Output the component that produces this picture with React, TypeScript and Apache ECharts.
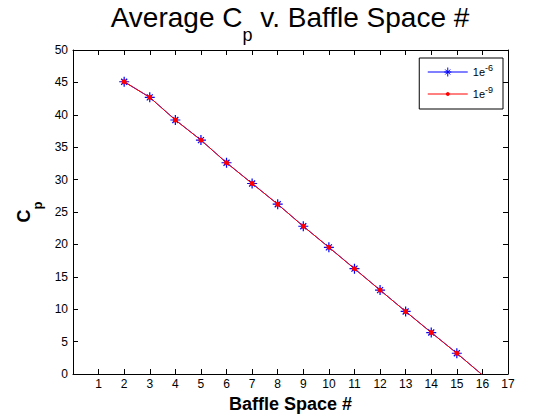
import React, { useEffect, useRef } from "react";
import * as echarts from "echarts";

const baffleSpace = [2, 3, 4, 5, 6, 7, 8, 9, 10, 11, 12, 13, 14, 15, 16];
const cpTol6 = [45.1, 42.7, 39.2, 36.1, 32.6, 29.4, 26.2, 22.8, 19.55, 16.25, 12.95, 9.65, 6.4, 3.2, -0.15];
const cpTol9 = [45.1, 42.7, 39.2, 36.1, 32.6, 29.4, 26.2, 22.8, 19.55, 16.25, 12.95, 9.65, 6.4, 3.2, -0.15];
const seriesNames = ["1e-6", "1e-9"];

const FONT = "Liberation Sans, Arial, Helvetica, sans-serif";
const ASTERISK = "path://M0,-10 L0,10 M-10,0 L10,0 M-6,-6 L6,6 M-6,6 L6,-6";
const LEGEND_BLUE = "path://M0,0 M40,10 M0,5 L40,5 M20,0.5 L20,9.5 M16.5,5 L23.5,5 M17.5,2.5 L22.5,7.5 M17.5,7.5 L22.5,2.5";
const LEGEND_RED = "path://M0,0 M40,10 M0,5 L40,5 M18.5,5 A1.5,1.5 0 1,0 21.5,5 A1.5,1.5 0 1,0 18.5,5 Z";

export default function App() {
  const ref = useRef<HTMLDivElement>(null);
  useEffect(() => {
    if (!ref.current) return;
    const chart = echarts.init(ref.current, null, { renderer: "svg" });
    const axisLine = { show: true, onZero: false, lineStyle: { color: "#000", width: 1 } };
    const tick = { show: true, inside: true, length: 5, lineStyle: { color: "#000" } };
    chart.setOption({
      animation: false,
      backgroundColor: "#fff",
      title: {
        text: "Average C{sub|p} v. Baffle Space #",
        left: 290,
        textAlign: "center",
        top: 2,
        padding: 0,
        textStyle: {
          fontFamily: FONT,
          fontSize: 28,
          fontWeight: "normal",
          color: "#000",
          lineHeight: 30,
          rich: {
            sub: { fontFamily: FONT, fontSize: 18, color: "#000", padding: [36, 0, 0, 0] },
          },
        },
      },
      legend: {
        right: 57,
        top: 58,
        orient: "vertical",
        data: [
          { name: seriesNames[0], icon: LEGEND_BLUE, itemStyle: { color: "#0000ff", borderColor: "#0000ff", borderWidth: 1 } },
          { name: seriesNames[1], icon: LEGEND_RED, itemStyle: { color: "#ff0000", borderColor: "#ff0000", borderWidth: 1 } },
        ],
        backgroundColor: "#fff",
        borderColor: "#000",
        borderWidth: 1,
        borderRadius: 0,
        padding: [5, 10, 6, 8],
        itemWidth: 40,
        itemHeight: 10,
        itemGap: 4,
        formatter: (n: string) => n.replace(/^1e(-\d+)$/, "1e{sup|$1}"),
        textStyle: {
          fontFamily: FONT,
          fontSize: 11,
          color: "#000",
          lineHeight: 18,
          rich: {
            sup: { fontFamily: FONT, fontSize: 9, lineHeight: 9, color: "#000", verticalAlign: "top" },
          },
        },
      },
      grid: { left: 73, right: 52, top: 50, bottom: 46 },
      xAxis: [
        {
          type: "value",
          min: 0,
          max: 17,
          interval: 1,
          name: "Baffle Space #",
          nameLocation: "middle",
          nameGap: 17,
          nameTextStyle: { fontFamily: FONT, fontSize: 18, fontWeight: "bold", color: "#000" },
          axisLine,
          axisTick: tick,
          splitLine: { show: false },
          axisLabel: {
            fontFamily: FONT,
            fontSize: 12,
            color: "#000",
            margin: 4,
            formatter: (v: number) => (v === 0 ? "" : String(v)),
          },
        },
        {
          type: "value",
          position: "top",
          min: 0,
          max: 17,
          interval: 1,
          axisLine,
          axisTick: tick,
          splitLine: { show: false },
          axisLabel: { show: false },
        },
      ],
      yAxis: [
        {
          type: "value",
          min: 0,
          max: 50,
          interval: 5,
          name: "C{sub|p}",
          nameLocation: "middle",
          nameRotate: 90,
          nameGap: 27,
          nameTextStyle: {
            fontFamily: FONT,
            fontSize: 18,
            fontWeight: "bold",
            color: "#000",
            rich: { sub: { fontFamily: FONT, fontSize: 13, fontWeight: "bold", color: "#000", padding: [26, 0, 0, 0] } },
          },
          axisLine,
          axisTick: tick,
          splitLine: { show: false },
          axisLabel: { fontFamily: FONT, fontSize: 12, color: "#000", margin: 5 },
        },
        {
          type: "value",
          position: "right",
          min: 0,
          max: 50,
          interval: 5,
          axisLine,
          axisTick: tick,
          splitLine: { show: false },
          axisLabel: { show: false },
        },
      ],
      series: [
        {
          name: seriesNames[0],
          type: "line",
          data: baffleSpace.map((x, i) => [x, cpTol6[i]]),
          symbol: ASTERISK,
          symbolSize: 10,
          showAllSymbol: true,
          color: "#0000ff",
          lineStyle: { color: "#0000ff", width: 1 },
          itemStyle: { color: "#0000ff", borderColor: "#0000ff", borderWidth: 1.2 },
          clip: true,
          z: 2,
        },
        {
          name: seriesNames[1],
          type: "line",
          data: baffleSpace.map((x, i) => [x, cpTol9[i]]),
          symbol: "circle",
          symbolSize: 5,
          showAllSymbol: true,
          color: "#ff0000",
          lineStyle: { color: "#ff0000", width: 1 },
          itemStyle: { color: "#ff0000", borderWidth: 0 },
          clip: true,
          z: 3,
        },
      ],
    });
    return () => chart.dispose();
  }, []);
  return <div ref={ref} style={{ width: 560, height: 420, position: "absolute", left: 0, top: 0 }} />;
}
